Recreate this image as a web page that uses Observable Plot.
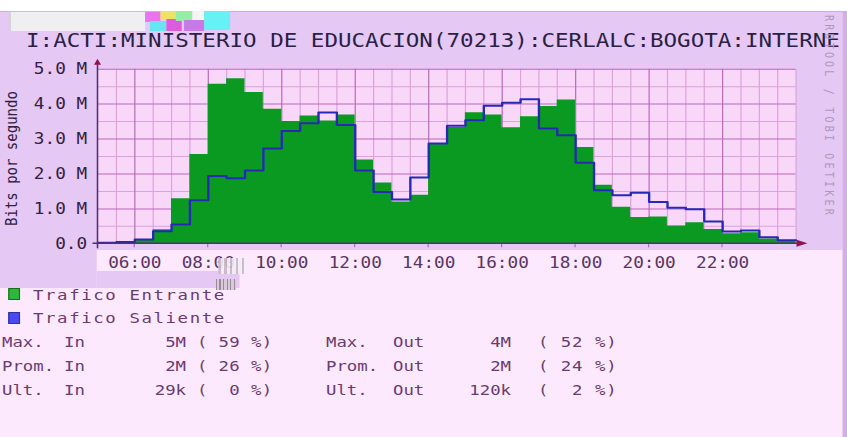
<!DOCTYPE html>
<html><head><meta charset="utf-8">
<script src="https://cdn.jsdelivr.net/npm/d3@7"></script>
<script src="https://cdn.jsdelivr.net/npm/@observablehq/plot@0.6"></script>
<style>
html,body{margin:0;padding:0;background:#fde9fd;overflow:hidden;}
#page{position:relative;width:847px;height:437px;overflow:hidden;background:#fde9fd;}
#wrap{position:absolute;left:0;top:0;width:718px;height:437px;transform:scaleX(1.18);transform-origin:0 0;font-family:"DejaVu Sans Mono",monospace;}
.b{position:absolute;}
.t{position:absolute;white-space:pre;line-height:1;font-family:"DejaVu Sans Mono",monospace;}
</style></head><body>
<div id="page"><div id="wrap"></div></div>
<script>
// ---------------- data ----------------
const title = "I:ACTI:MINISTERIO DE EDUCACION(70213):CERLALC:BOGOTA:INTERNE";
const yAxisTitle = "Bits por segundo";
const watermark = "RRDTOOL / TOBI OETIKER";
const slots = ["05:00","05:30","06:00","06:30","07:00","07:30","08:00","08:30","09:00","09:30","10:00","10:30","11:00","11:30","12:00","12:30","13:00","13:30","14:00","14:30","15:00","15:30","16:00","16:30","17:00","17:30","18:00","18:30","19:00","19:30","20:00","20:30","21:00","21:30","22:00","22:30","23:00","23:30"];
// values in M (bits/s)
const traficoEntrante = [0.02,0.03,0.10,0.40,1.29,2.56,4.57,4.73,4.33,3.85,3.50,3.66,3.52,3.69,2.40,1.74,1.20,1.39,2.85,3.33,3.75,3.69,3.32,3.64,3.93,4.12,2.76,1.68,1.05,0.75,0.77,0.51,0.60,0.41,0.29,0.32,0.14,0.07];
const traficoSaliente = [0.03,0.05,0.12,0.36,0.55,1.25,1.94,1.88,2.10,2.73,3.23,3.45,3.76,3.40,2.10,1.48,1.27,1.90,2.87,3.38,3.54,3.95,4.04,4.14,3.30,3.11,2.32,1.53,1.39,1.46,1.20,1.03,0.99,0.64,0.35,0.38,0.19,0.10];
const slotHours = 0.5;
const xDomain = [5, 24];
const xTickHours = [6,8,10,12,14,16,18,20,22];
const xTickLabels = ["06:00","08:00","10:00","12:00","14:00","16:00","18:00","20:00","22:00"];
const yTickValues = [0,1,2,3,4,5];
const yTickLabels = ["0.0","1.0 M","2.0 M","3.0 M","4.0 M","5.0 M"];
const seriesNames = ["Trafico Entrante","Trafico Saliente"];
const statNames = ["Max.","Prom.","Ult."];
const statIn = ["5M","2M","29k"];
const statInPct = [59,26,0];
const statOut = ["4M","2M","120k"];
const statOutPct = [52,24,2];

// ---------------- style ----------------
const S = 1.18;                 // horizontal stretch of the original image
const u = px => px / S;
const C = {
  lav:"#e6c8f5", plotBg:"#f9d7f9", legendBg:"#fde9fd", border:"#d3b0e3",
  gridMinor:"#dba2db", gridMajor:"#b868b8", axis:"#52306c", arrow:"#8c1450",
  green:"#0a9a22", blue:"#2828b8", title:"#2a1f44", yLab:"#33203f", xLab:"#5a3563",
  legend:"#6a3c6e", mark:"#ad9aba"
};
const wrap = document.getElementById("wrap");
function box(x0,y0,x1,y1,bg,extra){
  const d=document.createElement("div"); d.className="b";
  d.style.left=u(x0)+"px"; d.style.top=y0+"px"; d.style.width=u(x1-x0)+"px"; d.style.height=(y1-y0)+"px";
  d.style.background=bg; if(extra) Object.assign(d.style,extra); wrap.appendChild(d); return d;
}
function txt(str,xPage,base,size,color,right){
  const d=document.createElement("div"); d.className="t"; d.textContent=str;
  d.style.fontSize=size+"px"; d.style.color=color; d.style.top=(base-0.846*size)+"px";
  if(right){ d.style.right=(718-u(xPage))+"px"; } else { d.style.left=u(xPage)+"px"; }
  wrap.appendChild(d); return d;
}

// backgrounds
box(0,0,847,11,"#ffffff");
box(0,11,843,250,C.lav);
box(0,11,843,12,"#cfa9df");
box(0,250,97,288,C.lav);
box(97,271,240,288,C.lav);

// ---------------- chart ----------------
const toHour = s => +s.slice(0,2) + (+s.slice(3))/60;
function steps(vals){
  const a = slots.map((s,i)=>({t:toHour(s), v:vals[i]}));
  a.push({t:a[a.length-1].t + slotHours, v:vals[vals.length-1]});
  return a;
}
const inSteps = steps(traficoEntrante), outSteps = steps(traficoSaliente);
const majorX = xTickHours, minorX = d3.range(5.5, 24.01, 0.5).filter(h => !majorX.includes(h));
const majorY = yTickValues.filter(v => v > 0), minorY = d3.range(0.5, 5, 1);

const svgTop = 56, svgH = 226, W = 718;
const xLeft = 97.5, xRight = 795.5, yZero = 243.3, yTop = 68.7;

const chart = Plot.plot({
  width: W, height: svgH,
  marginLeft: u(xLeft), marginRight: W - u(xRight),
  marginTop: yTop - svgTop, marginBottom: svgTop + svgH - yZero,
  style:{background:"transparent", fontFamily:"DejaVu Sans Mono", fontSize:"15px", color:C.yLab, overflow:"visible"},
  x:{domain:xDomain, ticks:xTickHours, tickFormat:d=>xTickLabels[xTickHours.indexOf(d)], tickSize:0, tickPadding:13.2, label:null},
  y:{domain:[0,5], ticks:yTickValues, tickFormat:d=>yTickLabels[yTickValues.indexOf(d)], tickSize:0, tickPadding:u(xLeft-86.5), label:null},
  marks:[
    Plot.frame({fill:C.plotBg, stroke:"none"}),
    Plot.ruleX(minorX, {stroke:C.gridMinor, strokeWidth:1}),
    Plot.ruleY(minorY, {stroke:C.gridMinor, strokeWidth:1}),
    Plot.ruleX(majorX, {stroke:C.gridMajor, strokeWidth:1}),
    Plot.ruleY(majorY, {stroke:C.gridMajor, strokeWidth:1}),
    Plot.areaY(inSteps, {x:"t", y:"v", curve:"step-after", fill:C.green}),
    Plot.line(outSteps, {x:"t", y:"v", curve:"step-after", stroke:C.blue, strokeWidth:2})
  ]
});
chart.style.position="absolute"; chart.style.left="0px"; chart.style.top=svgTop+"px";
wrap.appendChild(chart);

// axis colours, axis lines and arrows through the plot's scales
const svg = d3.select(chart);
svg.selectAll('g[aria-label^="x-axis"] text').attr("fill", C.xLab);
svg.selectAll('g[aria-label^="y-axis"] text').attr("fill", C.yLab);
const sx = chart.scale("x"), sy = chart.scale("y");
const X = d3.scaleLinear(sx.domain, sx.range), Y = d3.scaleLinear(sy.domain, sy.range);
const g = svg.append("g");
g.selectAll("line.tk").data(majorX).join("line")
  .attr("x1",d=>X(d)).attr("x2",d=>X(d)).attr("y1",Y(0)).attr("y2",Y(0)+4)
  .attr("stroke",C.gridMajor);
g.append("line").attr("x1",X(xDomain[0])-u(5)).attr("x2",X(xDomain[1])+u(4))
  .attr("y1",Y(0)).attr("y2",Y(0)).attr("stroke",C.axis).attr("stroke-width",1.6);
g.append("line").attr("x1",X(xDomain[0])).attr("x2",X(xDomain[0]))
  .attr("y1",Y(0)+5).attr("y2",Y(5)-5).attr("stroke",C.axis).attr("stroke-width",1.3);
const ax = X(xDomain[1]), ay = Y(0);
g.append("path").attr("d",`M${ax+u(1)},${ay-3.5}L${ax+u(12)},${ay}L${ax+u(1)},${ay+3.5}Z`).attr("fill",C.arrow);
const bx = X(xDomain[0]), by = Y(5);
g.append("path").attr("d",`M${bx-u(3.5)},${by-4}L${bx},${by-10}L${bx+u(3.5)},${by-4}Z`).attr("fill",C.arrow);

// ---------------- texts ----------------
txt(title, 26, 47, 19.1, C.title);
// y axis title (rotated, reads bottom to top)
const ytSize = 14;
const yt = txt(yAxisTitle, 0, 0, ytSize, C.yLab);
yt.style.left = u(17) + "px"; yt.style.top = "226px";
yt.style.transformOrigin = "0 0";
yt.style.transform = `rotate(-90deg) translate(0, ${-0.846*ytSize}px)`;
// watermark (vertical, top to bottom)
const wm = document.createElement("div"); wm.className="t"; wm.textContent=watermark;
Object.assign(wm.style,{writingMode:"vertical-rl", fontSize:"10px", letterSpacing:"3.2px", color:C.mark, left:(u(829)-5)+"px", top:"15px"});
wrap.appendChild(wm);

// legend
const sq = [["#1c6a1c","#2db83d"],["#30309a","#4a4af5"]];
seriesNames.forEach((n,i)=>{
  const base = 300 + i*23.5;
  box(8, base-12, 20, base, sq[i][1], {boxShadow:`inset 0 0 0 1px ${sq[i][0]}`});
  const t = txt(n, 33, base, 14.7, C.legend);
  t.style.letterSpacing = "1.37px";
});
const pct = p => "( " + String(p).padStart(2," ") + " %)";
statNames.forEach((n,i)=>{
  const base = 347.5 + i*24;
  txt(n, 2, base, 14.7, C.legend);
  txt("In", 64, base, 14.7, C.legend);
  txt(statIn[i], 186, base, 14.7, C.legend, true);
  txt(pct(statInPct[i]), 197, base, 14.7, C.legend).style.letterSpacing="0.3px";
  txt(n, 326, base, 14.7, C.legend);
  txt("Out", 393, base, 14.7, C.legend);
  txt(statOut[i], 511, base, 14.7, C.legend, true);
  txt(pct(statOutPct[i]), 538, base, 14.7, C.legend).style.letterSpacing="0.8px";
});

// right border strip
box(843,11,847,437,C.border);
// image glitches of the original picture
box(10,11,145,31,"#efeef0",{boxShadow:"inset 1px 1px 0 #c4c4c4"});
box(145,12,160,22,"#ee72ee"); box(150,21,166,31,"#66e6f2"); box(160,11,176,20,"#eee266");
box(166,19,182,31,"#e05ae0"); box(176,11,192,21,"#96eea6"); box(184,20,204,31,"#c67ae6");
box(192,11,204,20,"#f4f4f4");
box(204,11,230,30,"#66f2f4");
box(218,258,246,274,"#f5eef5",{backgroundImage:"repeating-linear-gradient(90deg,#c8b8c8 0 2px,transparent 2px 5px)",opacity:"0.9"});
box(216,279,236,290,"#d8cad8",{backgroundImage:"repeating-linear-gradient(90deg,#9c8a9c 0 1px,transparent 1px 3px)"});
</script>
</body></html>
